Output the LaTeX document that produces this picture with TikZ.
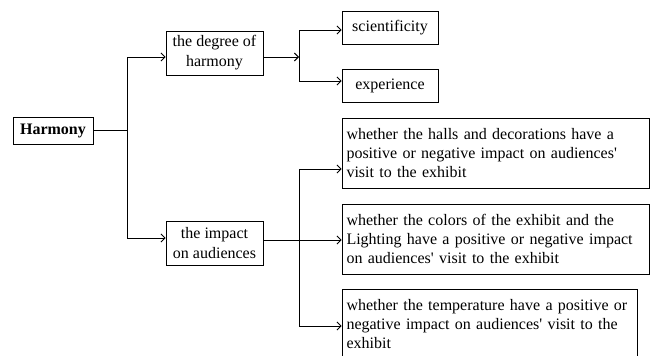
\documentclass[tikz,border=0pt]{standalone}
\usepackage{fontspec}
\setmainfont{Liberation Serif}
\newfontfamily\rawserif{Liberation Serif}[Ligatures=TeXOff]
\usetikzlibrary{arrows.meta}
\newcommand{\fillline}[1]{\makebox[\linewidth][s]{#1}\\}
\newcommand{\sq}{{\rawserif'}}
\begin{document}
\begin{tikzpicture}[x=1pt,y=-1pt,
  box/.style={draw, line width=0.9pt, inner sep=0pt, align=center,
    font=\fontsize{16}{20}\selectfont},
  longbox/.style={draw, line width=0.9pt, inner xsep=4.5pt, inner ysep=0pt,
    minimum height=70pt, align=left, font=\fontsize{16}{19}\selectfont},
  link/.style={line width=0.9pt},
  arr/.style={link, -{Straight Barb[length=4pt,width=8pt,line width=0.9pt]}}]
\useasboundingbox (0,0) rectangle (654,356);

% root and first level
\node[box, minimum width=80pt, minimum height=27pt] (harmony) at (53,130.5) {\textbf{Harmony}};
\node[box, minimum width=97pt, minimum height=44pt] (degree) at (214.5,53) {the degree of\\harmony};
\node[box, minimum width=97pt, minimum height=44pt] (impact) at (214.5,243) {the impact\\on audiences};

% second level under "the degree of harmony"
\node[box, minimum width=96pt, minimum height=33pt] (sci) at (390,27.5) {scientificity};
\node[box, minimum width=96pt, minimum height=33pt] (exp) at (390,85.5) {experience};

% second level under "the impact on audiences"
\node[longbox, text width=298pt] (halls) at (495.5,153) {%
  \fillline{whether the halls and decorations have a}%
  \fillline{positive or negative impact on audiences\sq}%
  visit to the exhibit};
\node[longbox, text width=298pt] (colors) at (495.5,239) {%
  \fillline{whether the colors of the exhibit and the}%
  \fillline{Lighting have a positive or negative impact}%
  on audiences\sq{} visit to the exhibit};
\node[longbox, text width=286pt] (temp) at (489.5,324) {%
  \fillline{whether the temperature have a positive or}%
  \fillline{negative impact on audiences\sq{} visit to the}%
  exhibit};

% branch points
\coordinate (r) at (127,130);
\coordinate (rtop) at (127,57);
\coordinate (rbot) at (127,238);
\coordinate (d) at (299,57);
\coordinate (dtop) at (299,30);
\coordinate (dbot) at (299,81);
\coordinate (itop) at (299,169);
\coordinate (ibot) at (299,326);

% root to first level
\draw[link] (harmony.east |- r) -- (r);
\draw[link] (rtop) -- (rbot);
\draw[arr] (rtop) -- (degree.west |- rtop);
\draw[arr] (rbot) -- (impact.west |- rbot);

% degree of harmony branch
\draw[arr] (degree.east |- d) -- (d);
\draw[link] (dtop) -- (dbot);
\draw[arr] (dtop) -- (sci.west |- dtop);
\draw[arr] (dbot) -- (exp.west |- dbot);

% impact on audiences branch
\draw[link] (itop) -- (ibot);
\draw[arr] (impact.east |- 0,240) -- (colors.west |- 0,240);
\draw[arr] (itop) -- (halls.west |- itop);
\draw[arr] (ibot) -- (temp.west |- ibot);
\end{tikzpicture}
\end{document}
